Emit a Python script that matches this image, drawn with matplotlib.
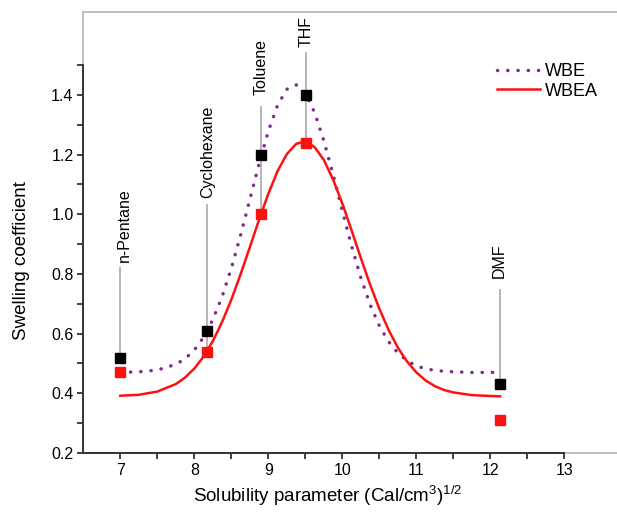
import matplotlib
matplotlib.use("Agg")
import matplotlib.pyplot as plt
from matplotlib.lines import Line2D

plt.rcParams['font.family'] = ['Liberation Sans', 'DejaVu Sans']
plt.rcParams['mathtext.default'] = 'regular'

# ---- data ----
solvents = ["n-Pentane", "Cyclohexane", "Toluene", "THF", "DMF"]
solvent_x = [7.0, 8.17, 8.9, 9.51, 12.13]
wbe_points = [0.52, 0.61, 1.20, 1.40, 0.43]
wbea_points = [0.47, 0.54, 1.00, 1.24, 0.31]

# fitted curves
curve_x = [7.0, 7.25, 7.5, 7.75, 7.875, 8.0, 8.125, 8.25, 8.375, 8.5, 8.625, 8.75,
           8.875, 9.0, 9.125, 9.25, 9.375, 9.5, 9.625, 9.75, 9.875, 10.0, 10.125,
           10.25, 10.375, 10.5, 10.625, 10.75, 10.875, 11.0, 11.125, 11.25, 11.375,
           11.5, 11.75, 12.0, 12.13]
wbe_curve = [0.470, 0.472, 0.478, 0.497, 0.516, 0.545, 0.588, 0.647, 0.724, 0.819,
             0.930, 1.050, 1.170, 1.279, 1.366, 1.419, 1.434, 1.406, 1.341, 1.246,
             1.132, 1.011, 0.893, 0.787, 0.697, 0.626, 0.573, 0.535, 0.509, 0.492,
             0.482, 0.477, 0.474, 0.472, 0.470, 0.470, 0.470]
wbea_curve = [0.392, 0.395, 0.406, 0.431, 0.453, 0.483, 0.523, 0.575, 0.639, 0.714,
              0.799, 0.890, 0.982, 1.069, 1.145, 1.202, 1.236, 1.245, 1.225, 1.182,
              1.116, 1.036, 0.946, 0.853, 0.764, 0.683, 0.612, 0.553, 0.506, 0.470,
              0.443, 0.424, 0.411, 0.403, 0.394, 0.391, 0.390]

# annotation leader lines (bottom, top) and label bottoms
leader_bottom = [0.52, 0.54, 1.00, 1.24, 0.43]
leader_top = [0.82, 1.03, 1.36, 1.54, 0.745]
label_bottom = [0.84, 1.055, 1.40, 1.56, 0.785]
label_x = [7.05, 8.18, 8.9, 9.51, 12.12]

# ---- figure ----
fig = plt.figure(figsize=(6.17, 5.13), dpi=100)
ax = fig.add_axes([83.3/617, 60/513, (617-83.3)/617, (453-12.3)/513])
ax.set_xlim(6.5, 13.71)
ax.set_ylim(0.2, 1.677)

purple = '#7f2a90'
red = '#ff1010'
dots = (0, (0.05, 2.9))

for x, b, t in zip(solvent_x, leader_bottom, leader_top):
    ax.plot([x, x], [b, t], color='#b0b0b0', lw=1.3, zorder=1)
for name, x, yb in zip(solvents, label_x, label_bottom):
    ax.text(x, yb, name, rotation=90, ha='center', va='bottom', fontsize=11.5,
            color='black', zorder=2)

ax.plot(curve_x, wbe_curve, linestyle=dots, color=purple, lw=2.5,
        dash_capstyle='round', zorder=2)
ax.plot(curve_x, wbea_curve, color=red, lw=1.8, zorder=2)

ax.plot(solvent_x, wbe_points, 's', color='black', ms=7.5, zorder=4, ls='none')
ax.plot(solvent_x, wbea_points, 's', color=red, ms=7.5, zorder=4, ls='none')

# ---- axes styling ----
dark = '#333333'
light = '#b5b5b5'
ax.spines['right'].set_visible(False)
ax.spines['top'].set_color(light)
ax.spines['top'].set_linewidth(1.2)
ax.spines['left'].set_bounds(0.2, 1.5)
ax.spines['left'].set_color(dark)
ax.spines['left'].set_linewidth(1.4)
ax.spines['bottom'].set_bounds(6.5, 13)
ax.spines['bottom'].set_color(dark)
ax.spines['bottom'].set_linewidth(1.4)
ax.plot([0, 0], [1.5, 1.677], transform=ax.get_yaxis_transform(), color=light,
        lw=1.2, clip_on=False, zorder=0)
ax.plot([13, 13.71], [0.2, 0.2], color=light, lw=1.2, clip_on=False, zorder=0)

ax.set_xticks([7, 8, 9, 10, 11, 12, 13])
ax.set_xticks([7.5, 8.5, 9.5, 10.5, 11.5, 12.5], minor=True)
ax.set_yticks([0.2, 0.4, 0.6, 0.8, 1.0, 1.2, 1.4])
ax.set_yticklabels(['0.2', '0.4', '0.6', '0.8', '1.0', '1.2', '1.4'])
ax.set_yticks([0.3, 0.5, 0.7, 0.9, 1.1, 1.3, 1.5], minor=True)
ax.tick_params(axis='both', which='major', direction='out', length=4, width=1.3,
               color=dark, labelsize=11.5, pad=3)
ax.tick_params(axis='both', which='minor', direction='out', length=4, width=1.3,
               color=dark)

ax.set_xlabel(r'Solubility parameter (Cal/cm$^{3}$)$^{1/2}$', fontsize=13.5)
ax.set_ylabel('Swelling coefficient', fontsize=13.5)
ax.xaxis.set_label_coords((328 - 83.3) / 533.7, -(484 - 453) / 440.7)
ax.yaxis.set_label_coords(-(83.3 - 30) / 533.7, (453 - 261) / 440.7)

handles = [Line2D([], [], linestyle=dots, color=purple, lw=2.5,
                  dash_capstyle='round'),
           Line2D([], [], color=red, lw=1.8)]
ax.legend(handles, ['WBE', 'WBEA'], loc='upper left',
          bbox_to_anchor=((497 - 83.3) / 533.7, (453 - 63) / 440.7),
          frameon=False, fontsize=13, handlelength=2.4, handletextpad=0.25,
          labelspacing=0.15, borderpad=0, borderaxespad=0)

fig.savefig('out.png', dpi=100)
